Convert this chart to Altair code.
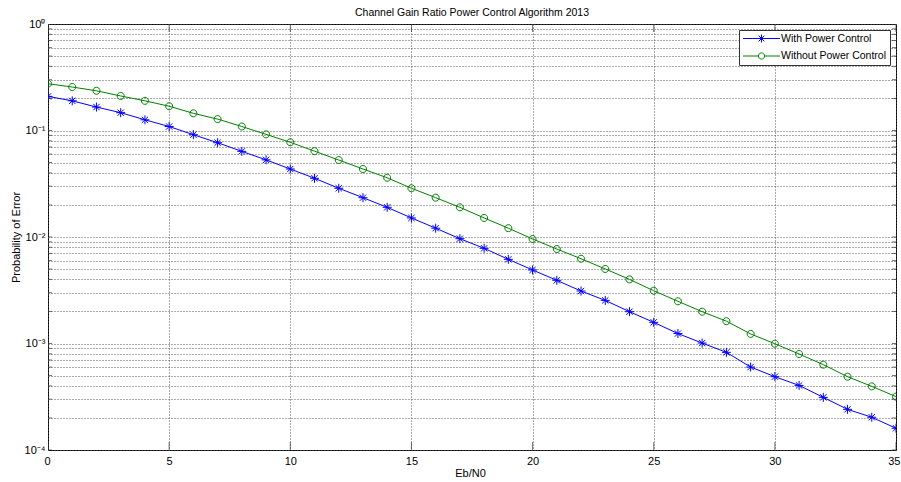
import altair as alt
import pandas as pd

# ---------------- data ----------------
eb_n0 = [0, 1, 2, 3, 4, 5, 6, 7, 8, 9, 10, 11, 12, 13, 14, 15, 16, 17,
         18, 19, 20, 21, 22, 23, 24, 25, 26, 27, 28, 29, 30, 31, 32, 33, 34, 35]
with_pc = [0.209, 0.190, 0.166, 0.147, 0.126, 0.109, 0.0913, 0.0768, 0.0637,
           0.0530, 0.0435, 0.0356, 0.0287, 0.0234, 0.0190, 0.0151, 0.0121,
           0.00964, 0.00783, 0.00617, 0.0049, 0.00392, 0.00311, 0.00254,
           0.00199, 0.00158, 0.00124, 0.00101, 0.000826, 0.000601, 0.000488,
           0.000404, 0.000312, 0.000241, 0.000203, 0.00016]
without_pc = [0.275, 0.256, 0.236, 0.211, 0.190, 0.169, 0.145, 0.128, 0.109,
              0.092, 0.0775, 0.064, 0.0528, 0.0435, 0.036, 0.0287, 0.0234,
              0.019, 0.0151, 0.0121, 0.00958, 0.00771, 0.00625, 0.00501,
              0.0040, 0.00313, 0.00249, 0.00199, 0.00162, 0.00123, 0.000995,
              0.000797, 0.000633, 0.000488, 0.000396, 0.000317]
series_names = ["With Power Control", "Without Power Control"]
series_colors = ["#0000ff", "#008000"]
x_tick_values = [0, 5, 10, 15, 20, 25, 30, 35]
y_decades = [1, 0.1, 0.01, 0.001, 0.0001]
y_decade_labels = ["10⁰", "10⁻¹", "10⁻²", "10⁻³", "10⁻⁴"]
y_minor_mult = [1, 2, 3, 4, 5, 6, 7, 8, 9]

y_grid = sorted({round(m * d, 12) for d in y_decades for m in y_minor_mult if m * d <= 1})

df = pd.DataFrame({
    "EbN0": eb_n0 + eb_n0,
    "Pe": with_pc + without_pc,
    "series": [series_names[0]] * len(eb_n0) + [series_names[1]] * len(eb_n0),
})
ydf = pd.DataFrame({"yt": y_grid})
xdf = pd.DataFrame({"xt": x_tick_values})

FONT = "Liberation Sans"

# marker shapes (unit paths)
ASTERISK = "M0,-1L0,1M-1,0L1,0M-0.7,-0.7L0.7,0.7M-0.7,0.7L0.7,-0.7"
CIRCLE = "M0.78,0A0.78,0.78,0,1,1,-0.78,0A0.78,0.78,0,1,1,0.78,0Z"
LEG_STAR = "M-3.7,0L3.7,0M0,-0.8L0,0.8M-0.8,0L0.8,0M-0.56,-0.56L0.56,0.56M-0.56,0.56L0.56,-0.56"
LEG_CIRC = "M-3.7,0L-0.62,0M0.62,0L3.7,0M0.62,0A0.62,0.62,0,1,1,-0.62,0A0.62,0.62,0,1,1,0.62,0"
sym_expr = f"datum.value === '{series_names[0]}' ? '{LEG_STAR}' : '{LEG_CIRC}'"

labels_js = "[" + ",".join(f"'{s}'" for s in y_decade_labels) + "]"
lg = "log(datum.value)/LN10"
y_label_expr = f"abs({lg} - round({lg})) < 0.001 ? {labels_js}[-round({lg})] : ''"

x_scale = alt.Scale(domain=[0, 35], nice=False, zero=False)
y_scale = alt.Scale(type="log", domain=[0.0001, 1], nice=False)
color_scale = alt.Scale(domain=series_names, range=series_colors)

GRID = dict(grid=True, gridDash=[1, 2], gridColor="#555", gridWidth=1,
            domain=False, ticks=False, tickSize=0,
            labelFont=FONT, labelFontSize=11, labelColor="#000",
            titleFont=FONT, titleFontSize=11, titleFontWeight="normal",
            titleColor="#000", labelOverlap=False)

x_axis = alt.Axis(values=x_tick_values, title="Eb/N0", labelPadding=5,
                  labelFlush=True, labelFlushOffset=4, titleX=422, titleY=23,
                  titleBaseline="middle", **GRID)
y_axis = alt.Axis(values=y_grid, labelExpr=y_label_expr, title="Probability of Error",
                  labelPadding=3, titleX=-32, titleY=213, titleBaseline="middle",
                  titleAngle=270, **GRID)

legend = alt.Legend(
    title=None, orient="none", legendX=691, legendY=6,
    symbolType={"expr": sym_expr}, symbolSize=100, symbolStrokeWidth=1,
    symbolFillColor="transparent", symbolOffset=14, labelOffset=14,
    fillColor="#ffffff", strokeColor="#333333", padding=3, rowPadding=5.5,
    labelFont=FONT, labelFontSize=10.5, labelColor="#000", cornerRadius=0,
)

base = alt.Chart(df)

lines = base.mark_line(strokeWidth=1, clip=True).encode(
    x=alt.X("EbN0:Q", scale=x_scale, axis=x_axis),
    y=alt.Y("Pe:Q", scale=y_scale, axis=y_axis),
    color=alt.Color("series:N", scale=color_scale, legend=legend),
)


def marker_layer(name, path):
    return base.transform_filter(alt.datum.series == name).mark_point(
        shape=path, filled=False, strokeWidth=1, opacity=1, size=81, clip=True
    ).encode(
        x=alt.X("EbN0:Q", scale=x_scale, axis=x_axis),
        y=alt.Y("Pe:Q", scale=y_scale, axis=y_axis),
        color=alt.Color("series:N", scale=color_scale, legend=None),
    )


points_with = marker_layer(series_names[0], ASTERISK)
points_without = marker_layer(series_names[1], CIRCLE)

tick_color = "#333333"
y_ticks_left = alt.Chart(ydf).mark_tick(orient="horizontal", size=8, thickness=1,
                                        color=tick_color, clip=True).encode(
    x=alt.XDatum(0, scale=x_scale, axis=x_axis), y=alt.Y("yt:Q", scale=y_scale, axis=y_axis))
y_ticks_right = alt.Chart(ydf).mark_tick(orient="horizontal", size=8, thickness=1,
                                         color=tick_color, clip=True).encode(
    x=alt.XDatum(35, scale=x_scale, axis=x_axis), y=alt.Y("yt:Q", scale=y_scale, axis=y_axis))
x_ticks_bottom = alt.Chart(xdf).mark_tick(orient="vertical", size=16, thickness=1,
                                          color=tick_color, clip=True).encode(
    x=alt.X("xt:Q", scale=x_scale, axis=x_axis), y=alt.YDatum(0.0001, scale=y_scale, axis=y_axis))
x_ticks_top = alt.Chart(xdf).mark_tick(orient="vertical", size=16, thickness=1,
                                       color=tick_color, clip=True).encode(
    x=alt.X("xt:Q", scale=x_scale, axis=x_axis), y=alt.YDatum(1, scale=y_scale, axis=y_axis))

chart = alt.layer(
    lines, points_with, points_without,
    y_ticks_left, y_ticks_right, x_ticks_bottom, x_ticks_top
).properties(
    width=848, height=426,
    autosize=alt.AutoSizeParams(type="none"),
    padding={"left": 48, "top": 24, "right": 5, "bottom": 32},
    background="#ffffff",
    title=alt.Title("Channel Gain Ratio Power Control Algorithm 2013", font=FONT,
                    fontSize=10.5, fontWeight="normal", color="#000", anchor="middle",
                    offset=0),
).configure_view(stroke="#000000", strokeWidth=1)

chart.save("out.html", embed_options={"renderer": "svg", "actions": False})
